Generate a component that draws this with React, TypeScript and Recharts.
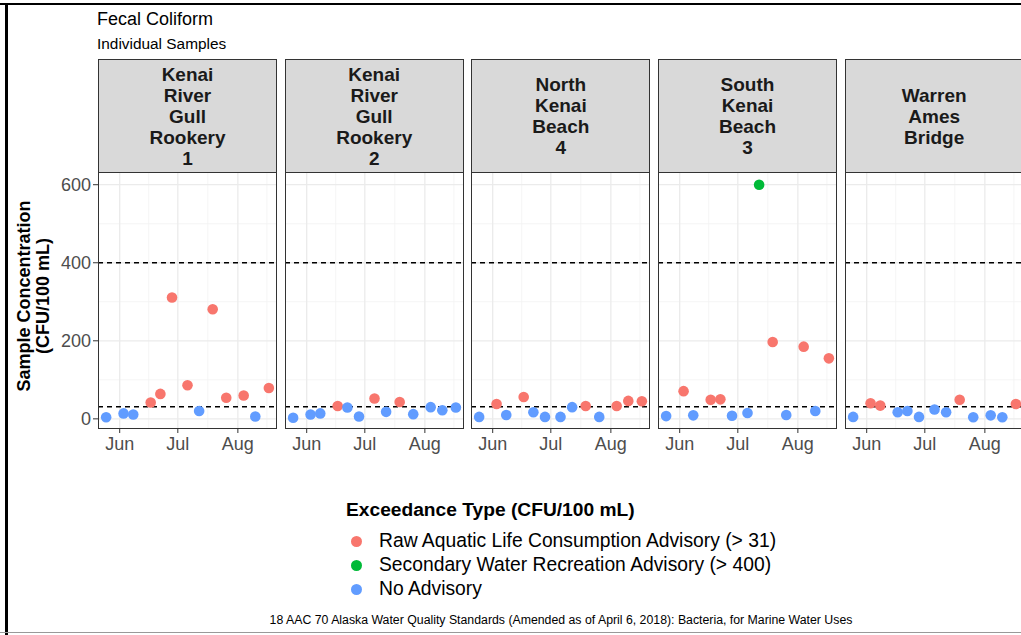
import { ScatterChart, Scatter, XAxis, YAxis, CartesianGrid, ReferenceLine, Cell } from 'recharts';

const sampleDates = [
  '2018-05-25', '2018-06-03', '2018-06-08', '2018-06-17', '2018-06-22', '2018-06-28',
  '2018-07-06', '2018-07-12', '2018-07-19', '2018-07-26', '2018-08-04', '2018-08-10', '2018-08-17',
];

const sites = [
  ['Kenai', 'River', 'Gull', 'Rookery', '1'],
  ['Kenai', 'River', 'Gull', 'Rookery', '2'],
  ['North', 'Kenai', 'Beach', '4'],
  ['South', 'Kenai', 'Beach', '3'],
  ['Warren', 'Ames', 'Bridge'],
];

const gullRookery1 = [4, 14, 11, 42, 64, 311, 86, 20, 281, 54, 60, 6, 79];
const gullRookery2 = [3, 11, 14, 33, 29, 6, 52, 18, 43, 12, 30, 22, 29];
const northBeach4 = [5, 38, 10, 56, 17, 5, 5, 30, 33, 5, 33, 46, 45];
const southBeach3 = [7, 71, 9, 49, 50, 8, 15, 600, 197, 10, 185, 20, 155];
const warrenAmes = [5, 40, 34, 17, 20, 5, 24, 17, 49, 4, 9, 4, 38];

const siteValues = [gullRookery1, gullRookery2, northBeach4, southBeach3, warrenAmes];

const monthTicks = [0, 30, 61];
const monthLabels = ['Jun', 'Jul', 'Aug'];
const minorDays = [15, 45.5, 76];
const yTicks = [0, 200, 400, 600];
const yMinor = [100, 300, 500];

const legendItems = [
  { label: 'Raw Aquatic Life Consumption Advisory (> 31)', color: '#F8766D' },
  { label: 'Secondary Water Recreation Advisory (> 400)', color: '#00BA38' },
  { label: 'No Advisory', color: '#619CFF' },
];

const FONT = '"Liberation Sans", Arial, sans-serif';
const PANEL_W = 179;
const PANEL_TOP = 173;
const PANEL_H = 256;
const STRIP_TOP = 59;
const PANEL_LEFTS = [98, 284.7, 471.3, 658, 844.7];
const Y_AXIS_W = 48;

function dayOffset(d: string) {
  const [y, m, dd] = d.split('-').map(Number);
  return (Date.UTC(y, m - 1, dd) - Date.UTC(y, 5, 1)) / 86400000;
}

function colorFor(v: number) {
  if (v > 400) return legendItems[1].color;
  if (v > 31) return legendItems[0].color;
  return legendItems[2].color;
}

function Panel({ idx }: { idx: number }) {
  const data = siteValues[idx].map((v, i) => ({ day: dayOffset(sampleDates[i]), value: v }));
  const first = idx === 0;
  const left = PANEL_LEFTS[idx] - (first ? Y_AXIS_W : 0);
  const width = PANEL_W + (first ? Y_AXIS_W : 0);
  const tickStyle = { fontSize: 18, fill: '#4d4d4d', fontFamily: FONT };
  return (
    <>
      <div
        style={{
          position: 'absolute', left: PANEL_LEFTS[idx], top: STRIP_TOP, width: PANEL_W, height: PANEL_TOP - STRIP_TOP,
          background: '#d9d9d9', border: '1px solid #333', boxSizing: 'border-box',
          display: 'flex', flexDirection: 'column', justifyContent: 'center', alignItems: 'center',
          fontFamily: FONT, fontWeight: 'bold', fontSize: 19, lineHeight: '21px', color: '#1a1a1a',
        }}
      >
        {sites[idx].map((t, i) => <div key={i}>{t}</div>)}
      </div>
      <div style={{ position: 'absolute', left, top: PANEL_TOP }}>
        <ScatterChart width={width} height={PANEL_H + 36} margin={{ top: 0, right: 0, bottom: 0, left: 0 }}>
          <CartesianGrid stroke="#f2f2f2" strokeWidth={0.8} horizontalValues={yMinor} verticalValues={minorDays} />
          <CartesianGrid stroke="#ebebeb" strokeWidth={1.3} horizontalValues={yTicks} verticalValues={monthTicks} />
          <XAxis
            type="number" dataKey="day" domain={[-11.2, 81.2]} ticks={monthTicks} allowDataOverflow
            tickFormatter={(v: number) => monthLabels[monthTicks.indexOf(v)]}
            axisLine={false} tickLine={{ stroke: '#333' }} tickSize={4} height={36}
            tick={{ ...tickStyle, dy: 2 }} interval={0}
          />
          <YAxis
            type="number" dataKey="value" domain={[-26, 630]} ticks={yTicks} allowDataOverflow
            hide={!first} width={Y_AXIS_W} axisLine={false} tickLine={{ stroke: '#333' }} tickSize={5}
            tick={tickStyle} interval={0}
          />
          <ReferenceLine y={31} stroke="#000" strokeDasharray="5 4" strokeWidth={1.3} />
          <ReferenceLine y={400} stroke="#000" strokeDasharray="5 4" strokeWidth={1.3} />
          <Scatter data={data} isAnimationActive={false} shape={(p: any) => <circle cx={p.cx} cy={p.cy} r={5.3} fill={p.fill} />}>
            {data.map((d, i) => <Cell key={i} fill={colorFor(d.value)} />)}
          </Scatter>
        </ScatterChart>
      </div>
      <div
        style={{
          position: 'absolute', left: PANEL_LEFTS[idx], top: PANEL_TOP - 1, width: PANEL_W, height: PANEL_H + 1,
          border: '1px solid #333', boxSizing: 'border-box', pointerEvents: 'none',
        }}
      />
    </>
  );
}

export default function App() {
  return (
    <div
      style={{
        position: 'absolute', left: 0, top: 0, width: 1021, height: 635, overflow: 'hidden',
        background: '#fff', fontFamily: FONT,
      }}
    >
      <div style={{ position: 'absolute', left: 0, top: 3, width: 1021, height: 2, background: '#000' }} />
      <div style={{ position: 'absolute', left: 5, top: 3, width: 3, height: 632, background: '#000' }} />
      <div style={{ position: 'absolute', left: 0, top: 632, width: 1021, height: 1, background: '#999' }} />

      <div style={{ position: 'absolute', left: 97, top: 8, fontSize: 18, lineHeight: '22px', color: '#000' }}>Fecal Coliform</div>
      <div style={{ position: 'absolute', left: 97, top: 35, fontSize: 15.4, lineHeight: '18px', color: '#000' }}>Individual Samples</div>

      <svg style={{ position: 'absolute', left: 0, top: 0 }} width={60} height={635}>
        <g transform="translate(30 296) rotate(-90)">
          <text x={0} y={0} textAnchor="middle" fontFamily={FONT} fontWeight="bold" fontSize={18} fill="#000">
            Sample Concentration
          </text>
          <text x={0} y={19} textAnchor="middle" fontFamily={FONT} fontWeight="bold" fontSize={18} fill="#000">
            (CFU/100 mL)
          </text>
        </g>
      </svg>

      {siteValues.map((_, i) => <Panel key={i} idx={i} />)}

      <div style={{ position: 'absolute', left: 346, top: 499, fontSize: 19.2, lineHeight: '22px', fontWeight: 'bold', color: '#000' }}>
        Exceedance Type (CFU/100 mL)
      </div>
      {legendItems.map((it, i) => (
        <div key={i} style={{ position: 'absolute', left: 351, top: 530 + i * 24, height: 22, display: 'flex', alignItems: 'center' }}>
          <span style={{ width: 11, height: 11, borderRadius: '50%', background: it.color, display: 'inline-block' }} />
          <span style={{ marginLeft: 17, fontSize: 19.3, lineHeight: '22px', color: '#000' }}>{it.label}</span>
        </div>
      ))}

      <div style={{ position: 'absolute', left: 0, width: 1122, top: 612, textAlign: 'center', fontSize: 12.3, lineHeight: '16px', color: '#000' }}>
        18 AAC 70 Alaska Water Quality Standards (Amended as of April 6, 2018): Bacteria, for Marine Water Uses
      </div>
    </div>
  );
}
